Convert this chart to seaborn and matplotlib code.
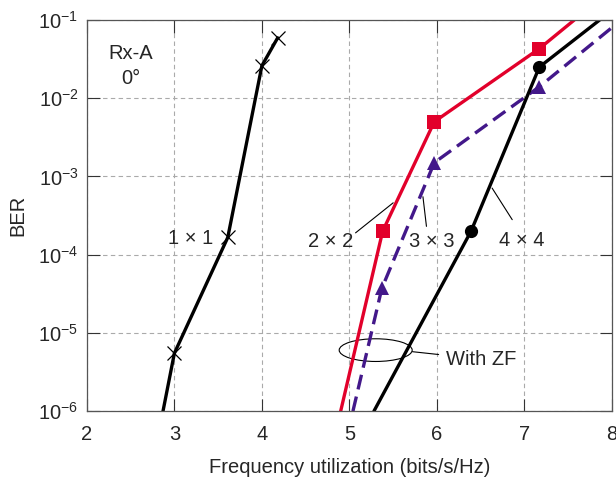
import seaborn as sns
from matplotlib import pyplot as plt
from matplotlib.patches import Ellipse
import matplotlib.ticker as ticker
import pandas as pd
import numpy as np

sns.set_theme(style='ticks')
plt.rcParams['font.family'] = ['Liberation Sans', 'DejaVu Sans']

# series (first/last points are where lines leave the frame)
x_1x1 = [2.87, 3.0, 3.61, 4.0, 4.18]
ber_1x1 = [1e-6, 5.5e-6, 1.66e-4, 2.6e-2, 5.9e-2]
x_2x2 = [4.90, 5.38, 5.97, 7.17, 7.57]
ber_2x2 = [1e-6, 2.0e-4, 5.0e-3, 4.3e-2, 1e-1]
x_3x3 = [5.04, 5.37, 5.97, 7.17, 8.0]
ber_3x3 = [1e-6, 3.7e-5, 1.5e-3, 1.4e-2, 8.0e-2]
x_4x4 = [5.28, 6.39, 7.17, 7.86]
ber_4x4 = [1e-6, 2.0e-4, 2.5e-2, 1e-1]

red = '#e2002b'
purple = '#43188a'
fs = 14.5

f = plt.figure(figsize=(6.16, 4.86), dpi=100)
ax = f.add_axes([0.141, 0.154, 0.8525, 0.805])

df1 = pd.DataFrame({'x': x_1x1, 'ber': ber_1x1})
sns.lineplot(x='x', y='ber', data=df1, ax=ax, color='black', lw=2.4,
             marker='x', ms=10, mew=0.9, mec='black', markevery=[1, 2, 3, 4])
df2 = pd.DataFrame({'x': x_2x2, 'ber': ber_2x2})
sns.lineplot(x='x', y='ber', data=df2, ax=ax, color=red, lw=2.4,
             marker='s', ms=9.5, mew=0, markevery=[1, 2, 3])
df3 = pd.DataFrame({'x': x_3x3, 'ber': ber_3x3})
sns.lineplot(x='x', y='ber', data=df3, ax=ax, color=purple, lw=2.4,
             ls=(0, (4.5, 2.2)), marker='^', ms=9.5, mew=0, markevery=[1, 2, 3])
df4 = pd.DataFrame({'x': x_4x4, 'ber': ber_4x4})
sns.lineplot(x='x', y='ber', data=df4, ax=ax, color='black', lw=2.4,
             marker='o', ms=9.5, mew=0, markevery=[1, 2])

ax.set_yscale('log')
ax.set_xlim(2, 8)
ax.set_ylim(1e-6, 1e-1)
ax.set_xticks([2, 3, 4, 5, 6, 7, 8])
ax.yaxis.set_minor_locator(ticker.NullLocator())
ax.grid(True, ls=(0, (4, 3)), color='#aaaaaa', lw=0.8)
ax.tick_params(direction='in', length=9, width=0.8, top=True, right=True,
               labelsize=fs, color='#333333')
ax.tick_params(axis='x', pad=10)
ax.tick_params(axis='y', pad=6)
for s in ax.spines.values():
    s.set_color('#555555')
    s.set_linewidth(0.9)

ax.set_xlabel('Frequency utilization (bits/s/Hz)', fontsize=fs, labelpad=10)
ax.set_ylabel('BER', fontsize=fs, labelpad=8)

ax.text(2.5, 2.6e-2, 'Rx-A\n0°', fontsize=fs, ha='center', va='center', linespacing=1.4)
ax.text(3.18, 1.6e-4, '1 × 1', fontsize=fs, ha='center', va='center')
line = dict(arrowstyle='-', color='black', lw=0.8, shrinkA=0, shrinkB=0)
ax.annotate('', xy=(5.50, 4.6e-4), xytext=(5.07, 1.9e-4), arrowprops=line)
ax.text(4.78, 1.48e-4, '2 × 2', fontsize=fs, ha='center', va='center')
ax.annotate('', xy=(5.84, 5.5e-4), xytext=(5.88, 2.3e-4), arrowprops=line)
ax.text(5.94, 1.48e-4, '3 × 3', fontsize=fs, ha='center', va='center')
ax.annotate('', xy=(6.63, 7.1e-4), xytext=(6.86, 2.8e-4), arrowprops=line)
ax.text(6.97, 1.5e-4, '4 × 4', fontsize=fs, ha='center', va='center')

ax.add_patch(Ellipse((0.55, 0.156), width=0.139, height=0.058,
                     transform=ax.transAxes, fill=False, ec='black', lw=0.8))
ax.annotate('With ZF', xy=(0.620, 0.152), xycoords='axes fraction',
            xytext=(0.684, 0.133), textcoords='axes fraction', fontsize=fs,
            ha='left', va='center',
            arrowprops=dict(arrowstyle='-', color='black', lw=0.8, shrinkA=3, shrinkB=0))

plt.savefig('out.png', dpi=100)
